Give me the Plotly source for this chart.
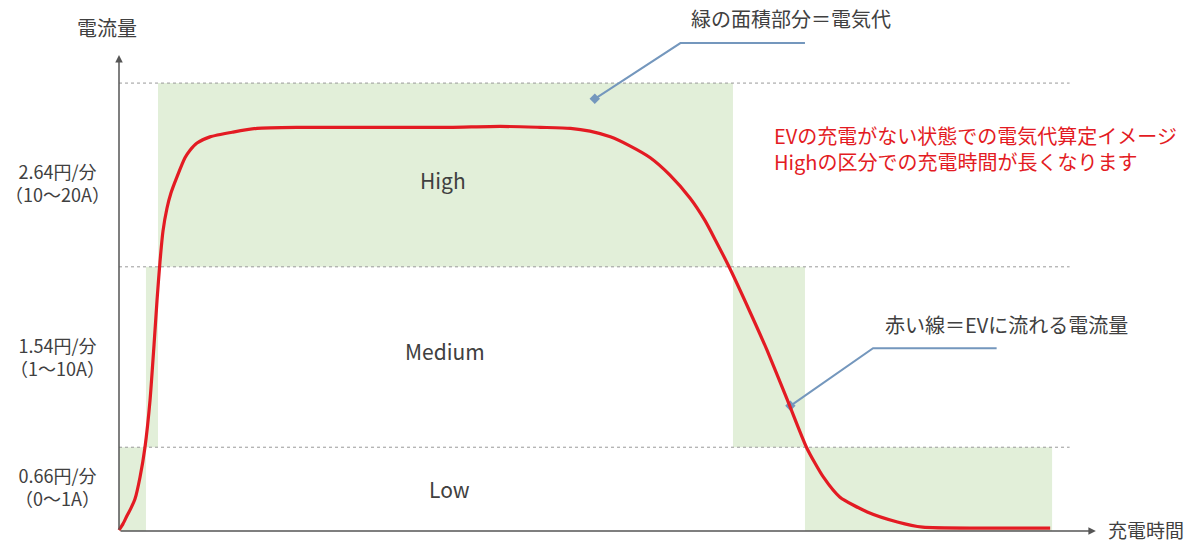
import plotly.graph_objects as go

# --- data (time in arbitrary units, current level in display units) ---
curve_t = [0, 0.41, 0.82, 1.23, 1.64, 2.16, 2.67, 3.19, 3.60, 3.91, 4.21, 4.52, 4.93, 5.34,
           5.96, 6.78, 7.30, 8.02, 9.35, 11.72, 14.18, 18.6, 23.7, 28.9, 34.0, 39.2, 43.3,
           46.4, 48.4, 50.5, 52.5, 54.6, 56.6, 58.7, 60.2, 61.3, 62.7, 64.9, 66.6, 68.7,
           70.7, 72.4, 74.1, 76.9, 80.0, 82.6, 88.5, 95.7]
curve_i = [0.2, 1.5, 3.2, 4.8, 6.7, 11.3, 17.6, 27.5, 39.1, 48.5, 56.5, 63.0, 67.8, 71.0,
           74.4, 78.4, 80.0, 81.5, 82.8, 83.8, 84.6, 84.8, 84.8, 84.8, 84.8, 85.0, 84.8,
           84.6, 84.0, 82.8, 80.9, 78.4, 74.8, 69.9, 65.3, 61.1, 55.5, 45.8, 38.0, 27.5,
           17.4, 11.3, 7.1, 4.0, 1.9, 0.8, 0.6, 0.6]

band_names = ["Low", "Medium", "High"]
band_bounds = [0, 17.6, 55.5, 94.1]          # level boundaries
band_price = ["0.66円/分", "1.54円/分", "2.64円/分"]
band_amps = ["（0～1A）", "（1～10A）", "（10～20A）"]
# green segments: (start, end, band index)
seg_start = [0.0, 2.77, 4.01, 63.1, 70.5]
seg_end = [2.77, 4.01, 63.1, 70.5, 95.9]
seg_band = [0, 1, 2, 1, 0]

note_lines = ["EVの充電がない状態での電気代算定イメージ", "Highの区分での充電時間が長くなります"]

GREEN = "#e2efd9"
RED = "#e31b23"
GRAY = "#555555"
TXT = "#404040"
BLUE = "#7497bd"
FONT = "Noto Sans CJK JP"

fig = go.Figure()

shapes = []
for s, e, b in zip(seg_start, seg_end, seg_band):
    shapes.append(dict(type="rect", xref="x", yref="y", x0=s, x1=e,
                       y0=band_bounds[b], y1=band_bounds[b + 1],
                       fillcolor=GREEN, line=dict(width=0), layer="below"))
for yb in band_bounds[1:]:
    shapes.append(dict(type="line", xref="x", yref="y", x0=0, x1=97.7, y0=yb, y1=yb,
                       line=dict(color="#999999", width=1, dash="dot"), layer="below"))

# leader lines
lead1_x = [70.5, 57.7, 48.9]
lead1_y = [102.5, 102.5, 90.8]
lead2_x = [90.2, 77.5, 69.0]
lead2_y = [38.4, 38.4, 26.3]
for lx, ly in [(lead1_x, lead1_y), (lead2_x, lead2_y)]:
    fig.add_trace(go.Scatter(x=lx, y=ly, mode="lines", line=dict(color=BLUE, width=2),
                             hoverinfo="skip", showlegend=False))
    fig.add_trace(go.Scatter(x=[lx[-1]], y=[ly[-1]], mode="markers",
                             marker=dict(color=BLUE, size=8, symbol="diamond"),
                             hoverinfo="skip", showlegend=False))

fig.add_trace(go.Scatter(x=curve_t, y=curve_i, mode="lines",
                         line=dict(color=RED, width=3.2, shape="spline", smoothing=0.6),
                         hoverinfo="skip", showlegend=False))

ann = []
# axes with arrows
ann.append(dict(x=100.4, y=0, ax=0, ay=0, xref="x", yref="y", axref="x", ayref="y",
                text="", showarrow=True, arrowhead=2, arrowsize=1, arrowwidth=1.5,
                arrowcolor=GRAY))
ann.append(dict(x=0, y=100, ax=0, ay=0, xref="x", yref="y", axref="x", ayref="y",
                text="", showarrow=True, arrowhead=2, arrowsize=1, arrowwidth=1.5,
                arrowcolor=GRAY))
ann.append(dict(x=-1.23, y=105.7, xref="x", yref="y", text="電流量", showarrow=False,
                font=dict(size=20, color=TXT, family=FONT)))
ann.append(dict(x=105.6, y=0.35, xref="x", yref="y", text="充電時間", showarrow=False,
                font=dict(size=19, color=TXT, family=FONT)))
# band tick labels (two lines each)
tick_y = [9.4, 36.6, 73.2]
for ty, p, a in zip(tick_y, band_price, band_amps):
    ann.append(dict(x=-6.37, y=ty, xref="x", yref="y", text=p + "<br>" + a,
                    showarrow=False, align="center",
                    font=dict(size=18, color=TXT, family=FONT)))
# band names
name_x = [34.0, 33.5, 33.3]
name_y = [8.9, 37.8, 73.8]
for nx, ny, nm in zip(name_x, name_y, band_names):
    ann.append(dict(x=nx, y=ny, xref="x", yref="y", text=nm, showarrow=False,
                    font=dict(size=21, color=TXT, family=FONT)))
ann.append(dict(x=69.1, y=107.6, xref="x", yref="y", text="緑の面積部分＝電気代",
                showarrow=False, font=dict(size=20, color=TXT, family=FONT)))
ann.append(dict(x=78.5, y=43.3, xref="x", yref="y", text="赤い線＝EVに流れる電流量",
                xanchor="left", showarrow=False, font=dict(size=20, color=TXT, family=FONT)))
ann.append(dict(x=67.1, y=80.3, xref="x", yref="y", text="<br>".join(note_lines),
                xanchor="left", align="left", showarrow=False,
                font=dict(size=20, color=RED, family=FONT)))

fig.update_layout(
    width=1191, height=543,
    margin=dict(l=0, r=0, t=0, b=0),
    paper_bgcolor="white", plot_bgcolor="white",
    shapes=shapes, annotations=ann,
    xaxis=dict(range=[-12.230, 110.175], visible=False, fixedrange=True),
    yaxis=dict(range=[-2.521, 111.555], visible=False, fixedrange=True),
    showlegend=False,
)

fig.write_html("out.html", config={"displayModeBar": False},
               post_script="document.body.style.margin='0px';document.body.style.overflow='hidden';")
